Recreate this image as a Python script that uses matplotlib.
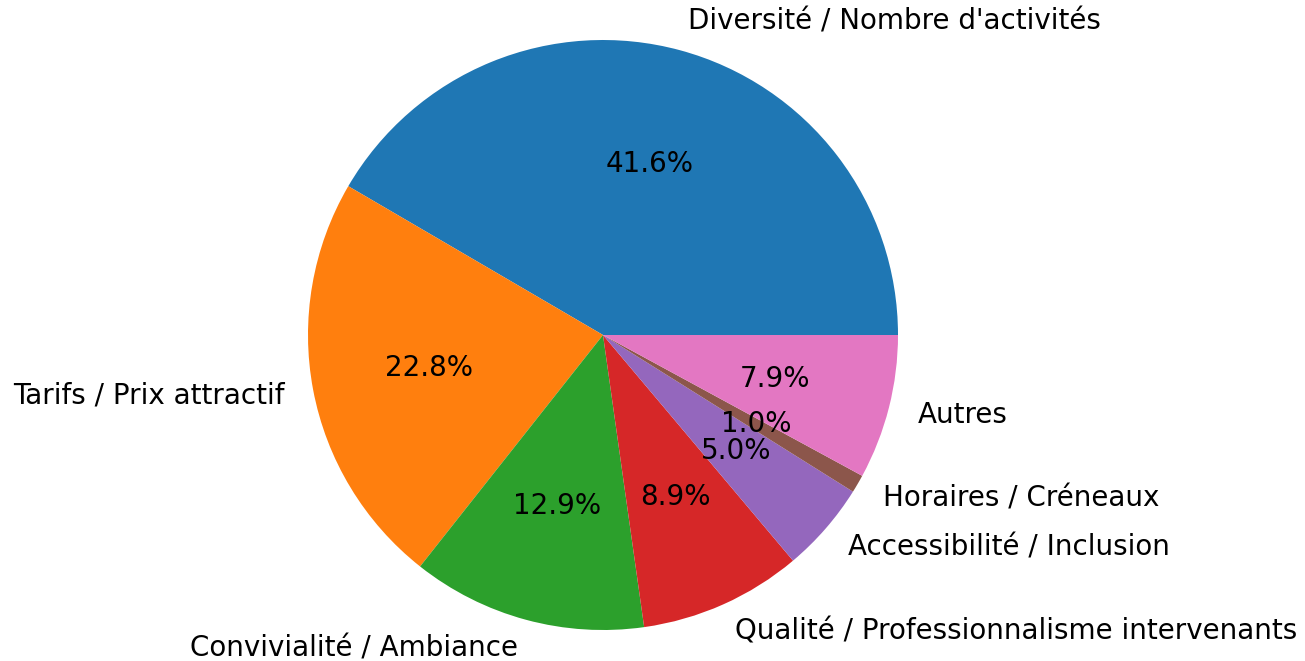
import matplotlib
matplotlib.use('Agg')
import matplotlib.pyplot as plt

# Raisons citees (nombre de reponses)
categories = [
    "Diversité / Nombre d'activités",
    "Tarifs / Prix attractif",
    "Convivialité / Ambiance",
    "Qualité / Professionnalisme intervenants",
    "Accessibilité / Inclusion",
    "Horaires / Créneaux",
    "Autres",
]
counts = [42, 23, 13, 9, 5, 1, 8]

fig = plt.figure(figsize=(13.05, 6.61), dpi=100)
ax = fig.add_axes([0, 0, 1, 1])

ax.pie(counts, labels=categories, autopct='%1.1f%%',
       textprops={'fontsize': 20})

# centre du camembert et echelle en pixels
cx, cy, r = 603, 335, 295
ax.set_aspect('auto')
ax.set_xlim(-cx / r, (1305 - cx) / r)
ax.set_ylim(-(661 - cy) / r, cy / r)
ax.axis('off')

fig.savefig('out.png', dpi=100)
